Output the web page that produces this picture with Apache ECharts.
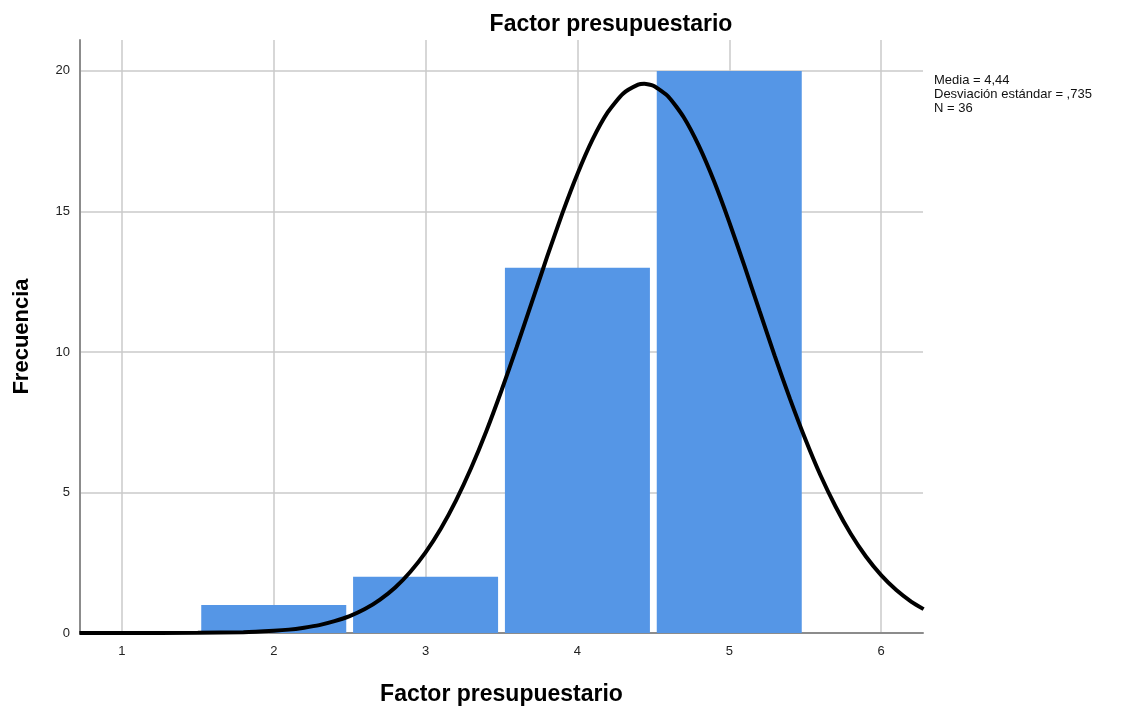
<!DOCTYPE html>
<html>
<head>
  <meta charset="utf-8">
  <title>Factor presupuestario</title>
  <script src="https://cdn.jsdelivr.net/npm/echarts@6/dist/echarts.min.js"></script>
  <style>
    html, body { margin: 0; padding: 0; background: #fff; }
    #main { width: 1137px; height: 706px; }
  </style>
</head>
<body>
  <div id="main"></div>
  <script type="text/javascript">
    // histogram bins (center, frequency)
    var binCenters = [2, 3, 4, 5];
    var binCounts = [1, 2, 13, 20];

    // normal curve (x, frequency)
    var curveX = [0.72, 1.0, 1.5, 1.8, 2.0, 2.1, 2.2, 2.3, 2.4, 2.5, 2.6, 2.7, 2.8, 2.9, 3.0,
                  3.1, 3.2, 3.3, 3.4, 3.5, 3.6, 3.7, 3.8, 3.9, 4.0, 4.1, 4.2, 4.3, 4.4, 4.44,
                  4.5, 4.6, 4.7, 4.8, 4.9, 5.0, 5.1, 5.2, 5.3, 5.4, 5.5, 5.6, 5.7, 5.8, 5.9,
                  6.0, 6.1, 6.2, 6.28];
    var curveY = [0.0, 0.0, 0.01, 0.03, 0.08, 0.12, 0.19, 0.28, 0.42, 0.60, 0.85, 1.19, 1.62, 2.18, 2.87,
                  3.71, 4.71, 5.87, 7.18, 8.63, 10.17, 11.77, 13.38, 14.92, 16.33, 17.56, 18.53, 19.19, 19.51, 19.54,
                  19.47, 19.08, 18.35, 17.33, 16.07, 14.62, 13.06, 11.45, 9.85, 8.33, 6.91, 5.62, 4.50, 3.53, 2.72,
                  2.06, 1.53, 1.11, 0.85];

    var statLines = ['Media = 4,44', 'Desviación estándar = ,735', 'N = 36'];

    var myChart = echarts.init(document.getElementById('main'));

    var barData = binCenters.map(function (c, i) { return [c, binCounts[i]]; });
    var curveData = curveX.map(function (x, i) { return [x, curveY[i]]; });

    var font = '"Liberation Sans", Arial, sans-serif';

    var option = {
      animation: false,
      title: {
        text: 'Factor presupuestario',
        left: 606,
        top: 8,
        textAlign: 'center',
        textStyle: { fontFamily: font, fontSize: 23, fontWeight: 'bold', color: '#000' }
      },
      grid: { left: 80, right: 214, top: 40, bottom: 73, outerBoundsMode: 'none' },
      xAxis: {
        type: 'value',
        min: 0.724,
        max: 6.276,
        name: 'Factor presupuestario',
        nameLocation: 'middle',
        nameGap: 50,
        nameTextStyle: { fontFamily: font, fontSize: 23, fontWeight: 'bold', color: '#000' },
        axisLine: { lineStyle: { color: '#8c8c8c', width: 2 } },
        axisTick: { show: false },
        axisLabel: {
          showMinLabel: false, showMaxLabel: false, margin: 12,
          fontFamily: font, fontSize: 13, color: '#222'
        },
        splitLine: { show: true, showMinLine: false, showMaxLine: false, lineStyle: { color: '#cacaca', width: 1.5 } }
      },
      yAxis: {
        type: 'value',
        min: 0,
        max: 21.1,
        interval: 5,
        name: 'Frecuencia',
        nameLocation: 'middle',
        nameGap: 47,
        nameTextStyle: { fontFamily: font, fontSize: 22, fontWeight: 'bold', color: '#000' },
        axisLine: { show: true, lineStyle: { color: '#8c8c8c', width: 2 } },
        axisTick: { show: false },
        axisLabel: { showMaxLabel: false, margin: 10, fontFamily: font, fontSize: 13, color: '#222' },
        splitLine: { show: true, showMinLine: false, showMaxLine: false, lineStyle: { color: '#cacaca', width: 1.5 } }
      },
      graphic: [{
        type: 'text',
        left: 934,
        top: 73,
        style: {
          text: statLines.join('\n'),
          fontFamily: font,
          fontSize: 13,
          lineHeight: 14,
          fill: '#111'
        }
      }],
      series: [{
        type: 'bar',
        data: barData,
        barWidth: 145,
        itemStyle: { color: '#5596e6' },
        z: 2
      }, {
        type: 'line',
        data: curveData,
        smooth: 0.2,
        symbol: 'none',
        lineStyle: { color: '#000', width: 4 },
        z: 3
      }]
    };

    myChart.setOption(option);
  </script>
</body>
</html>
